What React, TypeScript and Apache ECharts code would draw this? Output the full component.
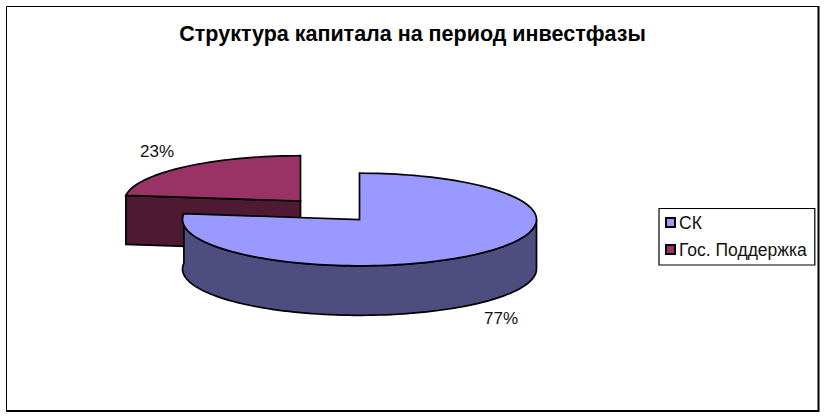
import React, { useEffect, useRef } from "react";
import * as echarts from "echarts";

const titleText = "Структура капитала на период инвестфазы";
const categories = ["СК", "Гос. Поддержка"];
const values = [77, 23];
const topColors = ["#9999ff", "#993366"];
const sideColors = ["#4d4d80", "#4d1933"];

const total = values.reduce((a, b) => a + b, 0);
const FONT = '"Liberation Sans", Arial, sans-serif';
const centers = [
  { cx: 359.5, cy: 219.5, rx: 177, ry: 46.3, depth: 49.5, labelX: 501, labelY: 318 },
  { cx: 300.5, cy: 201, rx: 176, ry: 45.3, depth: 49, labelX: 157, labelY: 151 },
];

function arcPoints(g: any, from: number, to: number, dy: number) {
  const pts: number[][] = [];
  const n = Math.max(2, Math.ceil(Math.abs(to - from) / 2));
  for (let i = 0; i <= n; i++) {
    const t = ((from + ((to - from) * i) / n) * Math.PI) / 180;
    pts.push([g.cx + g.rx * Math.sin(t), g.cy - g.ry * Math.cos(t) + dy]);
  }
  return pts;
}

function sliceRenderer(index: number) {
  return (_params: any, api: any) => {
    const g = centers[index];
    const before = values.slice(0, index).reduce((a, b) => a + b, 0);
    const start = (before / total) * 360;
    const end = start + (api.value(0) / total) * 360;
    const stroke = { stroke: "#000", lineWidth: 1.7, lineJoin: "miter" };
    const children: any[] = [];
    const apex = [g.cx, g.cy];

    // visible walls
    if (end > 180 && start < 180) {
      const from = Math.max(start, 90);
      const top = arcPoints(g, from, end, 0);
      const bottom = arcPoints(g, from, end, g.depth).reverse();
      children.push({
        type: "polygon",
        shape: { points: [...top, ...bottom] },
        style: { fill: sideColors[index], ...stroke },
      });
    } else {
      const p = arcPoints(g, start, end, 0)[0];
      children.push({
        type: "polygon",
        shape: {
          points: [apex, p, [p[0], p[1] + g.depth], [apex[0], apex[1] + g.depth]],
        },
        style: { fill: sideColors[index], ...stroke },
      });
    }
    // top face
    children.push({
      type: "polygon",
      shape: { points: [apex, ...arcPoints(g, start, end, 0)] },
      style: { fill: topColors[index], ...stroke },
    });
    // percent label
    children.push({
      type: "text",
      x: g.labelX,
      y: g.labelY,
      style: {
        text: `${Math.round((api.value(0) / total) * 100)}%`,
        font: `17px ${FONT}`,
        fill: "#111",
        align: "center",
        verticalAlign: "middle",
      },
    });
    return { type: "group", children };
  };
}

export default function App() {
  const ref = useRef<HTMLDivElement>(null);
  useEffect(() => {
    document.body.style.margin = "0";
    const chart = echarts.init(ref.current!, undefined, { renderer: "svg" });
    // The smaller slice sits behind, so it is drawn first.
    const order = [1, 0];
    chart.setOption({
      animation: false,
      backgroundColor: "#fff",
      title: {
        text: titleText,
        left: 407.5,
        top: 18,
        textAlign: "center",
        textStyle: { fontFamily: FONT, fontSize: 21.5, fontWeight: "bold", color: "#000" },
      },
      legend: {
        data: categories,
        orient: "vertical",
        left: 659,
        top: 208.5,
        itemWidth: 9,
        itemHeight: 9,
        itemGap: 9,
        padding: [5, 8, 6.5, 6],
        borderColor: "#000",
        borderWidth: 1.2,
        icon: "rect",
        selectedMode: false,
        textStyle: { fontFamily: FONT, fontSize: 17.5, color: "#111", padding: [0, 0, 2, -1] },
      },
      graphic: [
        {
          type: "polyline",
          silent: true,
          shape: { points: [[6.5, 412], [6.5, 6.5], [818, 6.5]] },
          style: { stroke: "#000", lineWidth: 1, fill: "none" },
        },
        {
          type: "polyline",
          silent: true,
          shape: { points: [[818.5, 6], [818.5, 411], [6, 411]] },
          style: { stroke: "#000", lineWidth: 2, fill: "none" },
        },
      ],
      series: order.map((i) => ({
        type: "custom",
        name: categories[i],
        coordinateSystem: "none",
        silent: true,
        data: [[values[i]]],
        encode: { value: 0 },
        itemStyle: { color: topColors[i], borderColor: "#000", borderWidth: 1.2 },
        renderItem: sliceRenderer(i),
      })),
    });
    return () => chart.dispose();
  }, []);
  return <div ref={ref} style={{ position: "absolute", left: 0, top: 0, width: 826, height: 418 }} />;
}
